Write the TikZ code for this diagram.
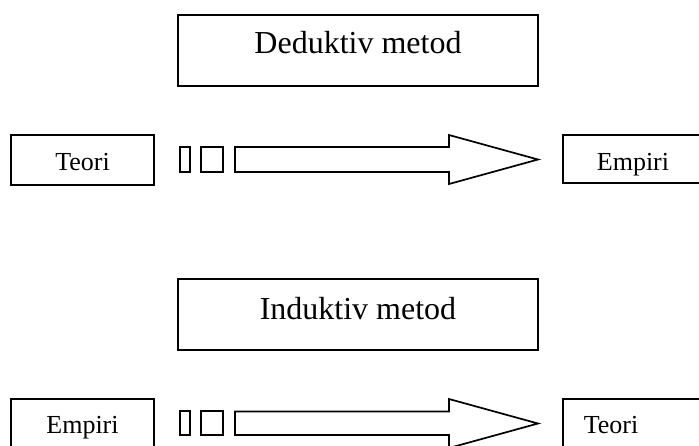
\documentclass[tikz,border=0pt]{standalone}
\usepackage{fontspec}
\setmainfont{Liberation Serif}

\tikzset{
  frame/.style={draw, line width=1.7pt, inner sep=0pt},
  boxtext/.style={font=\fontsize{26}{30}\selectfont, anchor=base, inner sep=0pt},
  headtext/.style={font=\fontsize{32}{38}\selectfont, anchor=base, inner sep=0pt},
  fatarrow/.style={draw, line width=1.7pt, line join=miter},
}

\begin{document}
\begin{tikzpicture}[x=1pt, y=-1pt]
\useasboundingbox (0,0) rectangle (699,445);

% deduktiv: teori -> empiri
 \node[frame, minimum width=360, minimum height=71] (dedbox) at (358,50.5) {};
 \node[headtext] (ded) at (358,53) {Deduktiv metod};
 \node[frame, minimum width=143, minimum height=50] (teoriA) at (82.5,160) {};
 \node[boxtext] at (82.5,170) {Teori};
 \draw[frame] (180,147) rectangle (190,172);
 \draw[frame] (201,147) rectangle (223,172);
 \draw[fatarrow] (235,147) -- (449,147) -- (449,135) -- (538,159.5)
   -- (449,184) -- (449,172) -- (235,172) -- cycle;
 \node[frame, minimum width=140, minimum height=48] (empiriA) at (633,159) {};
 \node[boxtext] at (633,170) {Empiri};

% induktiv: empiri -> teori
 \node[frame, minimum width=360, minimum height=71] (indbox) at (358,314.5) {};
 \node[headtext] (ind) at (358,319) {Induktiv metod};
 \node[frame, minimum width=143, minimum height=50] (empiriB) at (82.5,424) {};
 \node[boxtext] at (82.5,433) {Empiri};
 \draw[frame] (180,411) rectangle (190,435);
 \draw[frame] (201,411) rectangle (223,435);
 \draw[fatarrow] (235,411.5) -- (449,411.5) -- (449,399) -- (538,423.5)
   -- (449,448) -- (449,435) -- (235,435) -- cycle;
 \node[frame, minimum width=140, minimum height=48] (teoriB) at (633,423) {};
 \node[boxtext] at (611,433) {Teori};
\end{tikzpicture}
\end{document}
